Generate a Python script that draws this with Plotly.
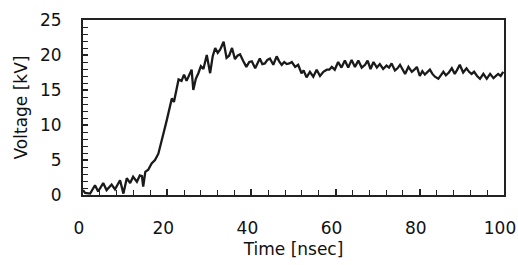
import plotly.graph_objects as go

time_ns = [0, 0.5, 1.7, 2.85, 3.6, 4.8, 5.6, 6.8, 7.6, 8.8, 9.6, 10.4, 11.2, 11.9, 12.8, 13.5, 14.0, 14.3,
           14.8, 15.5, 16.3, 17.1, 17.9, 18.3, 19.2, 19.9, 20.5, 21.1, 21.6, 22.2, 22.7, 23.4, 24.0, 24.6,
           25.3, 25.8, 26.2, 26.8, 27.4, 28.0, 28.6, 29.4, 30.2, 30.8, 31.4, 32.0, 32.6, 33.4, 34.1, 34.7,
           35.4, 36.1, 36.7, 37.3, 38.0, 38.8, 39.5, 40.1, 40.9, 41.5, 42.0, 42.6, 43.2, 43.8, 44.4, 45.2,
           46.0, 46.6, 47.2, 47.8, 48.4, 49.0, 49.6, 50.4, 51.1, 51.9, 52.4, 53.1, 53.9, 54.7, 55.5, 56.3,
           57.1, 57.9, 58.5, 59.1, 59.8, 60.6, 61.4, 62.2, 63.0, 63.8, 64.6, 65.4, 66.2, 67.0, 67.6, 68.3,
           69.0, 69.8, 70.5, 71.3, 72.1, 72.7, 73.3, 74.1, 74.7, 75.3, 75.9, 76.5, 77.3, 78.1, 78.7, 79.3,
           80.0, 80.6, 81.2, 81.8, 82.4, 83.0, 83.6, 84.4, 85.0, 85.6, 86.2, 86.9, 87.6, 88.3, 88.8, 89.5,
           90.3, 91.1, 91.7, 92.3, 92.9, 93.6, 94.3, 95.1, 95.9, 96.7, 97.5, 98.0, 98.6, 99.2, 99.8]

voltage_kv = [0.7, 0.3, 0.2, 1.4, 0.5, 1.7, 0.7, 1.5, 0.8, 2.1, 0.2, 2.4, 1.7, 2.6, 1.9, 2.8, 2.7, 1.2,
              3.3, 3.6, 4.5, 5.0, 5.9, 7.0, 9.0, 10.7, 12.2, 13.8, 13.3, 15.0, 16.5, 16.3, 17.2, 16.3,
              17.2, 17.9, 15.0, 16.6, 17.4, 18.4, 18.0, 20.0, 17.4, 19.8, 21.0, 20.3, 20.8, 21.9, 19.6, 19.9,
              21.0, 19.4, 19.9, 20.1, 19.2, 18.3, 19.0, 19.1, 18.1, 19.0, 19.5, 18.7, 18.8, 19.3, 19.5, 18.6,
              19.8, 19.1, 18.6, 19.0, 18.7, 18.8, 19.0, 18.3, 18.6, 17.4, 17.8, 16.8, 17.6, 16.9, 17.9, 17.0,
              17.6, 17.9, 17.9, 18.3, 17.9, 19.0, 18.2, 19.2, 18.2, 19.3, 18.3, 19.2, 18.2, 18.6, 19.2, 18.0,
              19.0, 18.2, 18.7, 18.0, 18.5, 18.2, 18.8, 17.8, 18.1, 18.6, 18.0, 17.3, 18.3, 17.6, 17.9, 18.3,
              17.0, 17.7, 17.2, 17.5, 17.9, 17.3, 16.9, 16.6, 17.2, 17.6, 17.1, 17.5, 18.1, 17.3, 17.8, 18.6,
              17.5, 18.1, 17.6, 17.3, 17.6, 17.0, 16.6, 17.3, 16.6, 17.3, 16.7, 17.0, 17.3, 17.0, 17.6]

x_ticks = [0, 20, 40, 60, 80, 100]
y_ticks = [0, 5, 10, 15, 20, 25]

font = dict(family="DejaVu Sans, sans-serif", size=17, color="#111")

fig = go.Figure()
fig.add_trace(go.Scatter(x=time_ns, y=voltage_kv, mode="lines",
                         line=dict(color="#1a1a1a", width=2.3), showlegend=False))

fig.update_layout(
    width=518, height=265,
    margin=dict(l=83, r=14, t=20, b=70, autoexpand=False),
    paper_bgcolor="white", plot_bgcolor="white",
    font=font,
)
fig.update_xaxes(
    range=[0, 100], tickvals=x_ticks, ticktext=[str(v) for v in x_ticks],
    showgrid=False, zeroline=False, automargin=False,
    showline=True, linecolor="#222", linewidth=1.8, mirror=True,
    ticks="inside", ticklen=6, tickwidth=1.6, tickcolor="#222",
    minor=dict(dtick=4, ticks="inside", ticklen=5, tickwidth=1.4, tickcolor="#222"),
    ticklabelstandoff=17, ticklabelshift=-4,
    title=dict(text="Time [nsec]", font=font, standoff=6),
)
fig.update_yaxes(
    range=[0, 25], tickvals=y_ticks, ticktext=[str(v) for v in y_ticks],
    showgrid=False, zeroline=False, automargin=False,
    showline=True, linecolor="#222", linewidth=1.8, mirror=True,
    ticks="inside", ticklen=5, tickwidth=1.6, tickcolor="#222",
    minor=dict(dtick=1, ticks="inside", ticklen=5, tickwidth=1.4, tickcolor="#222"),
    ticklabelstandoff=16,
    title=dict(text="Voltage [kV]", font=font, standoff=8),
)

fig.write_html("out.html", config={"displayModeBar": False},
               post_script="document.body.style.margin='0';")
